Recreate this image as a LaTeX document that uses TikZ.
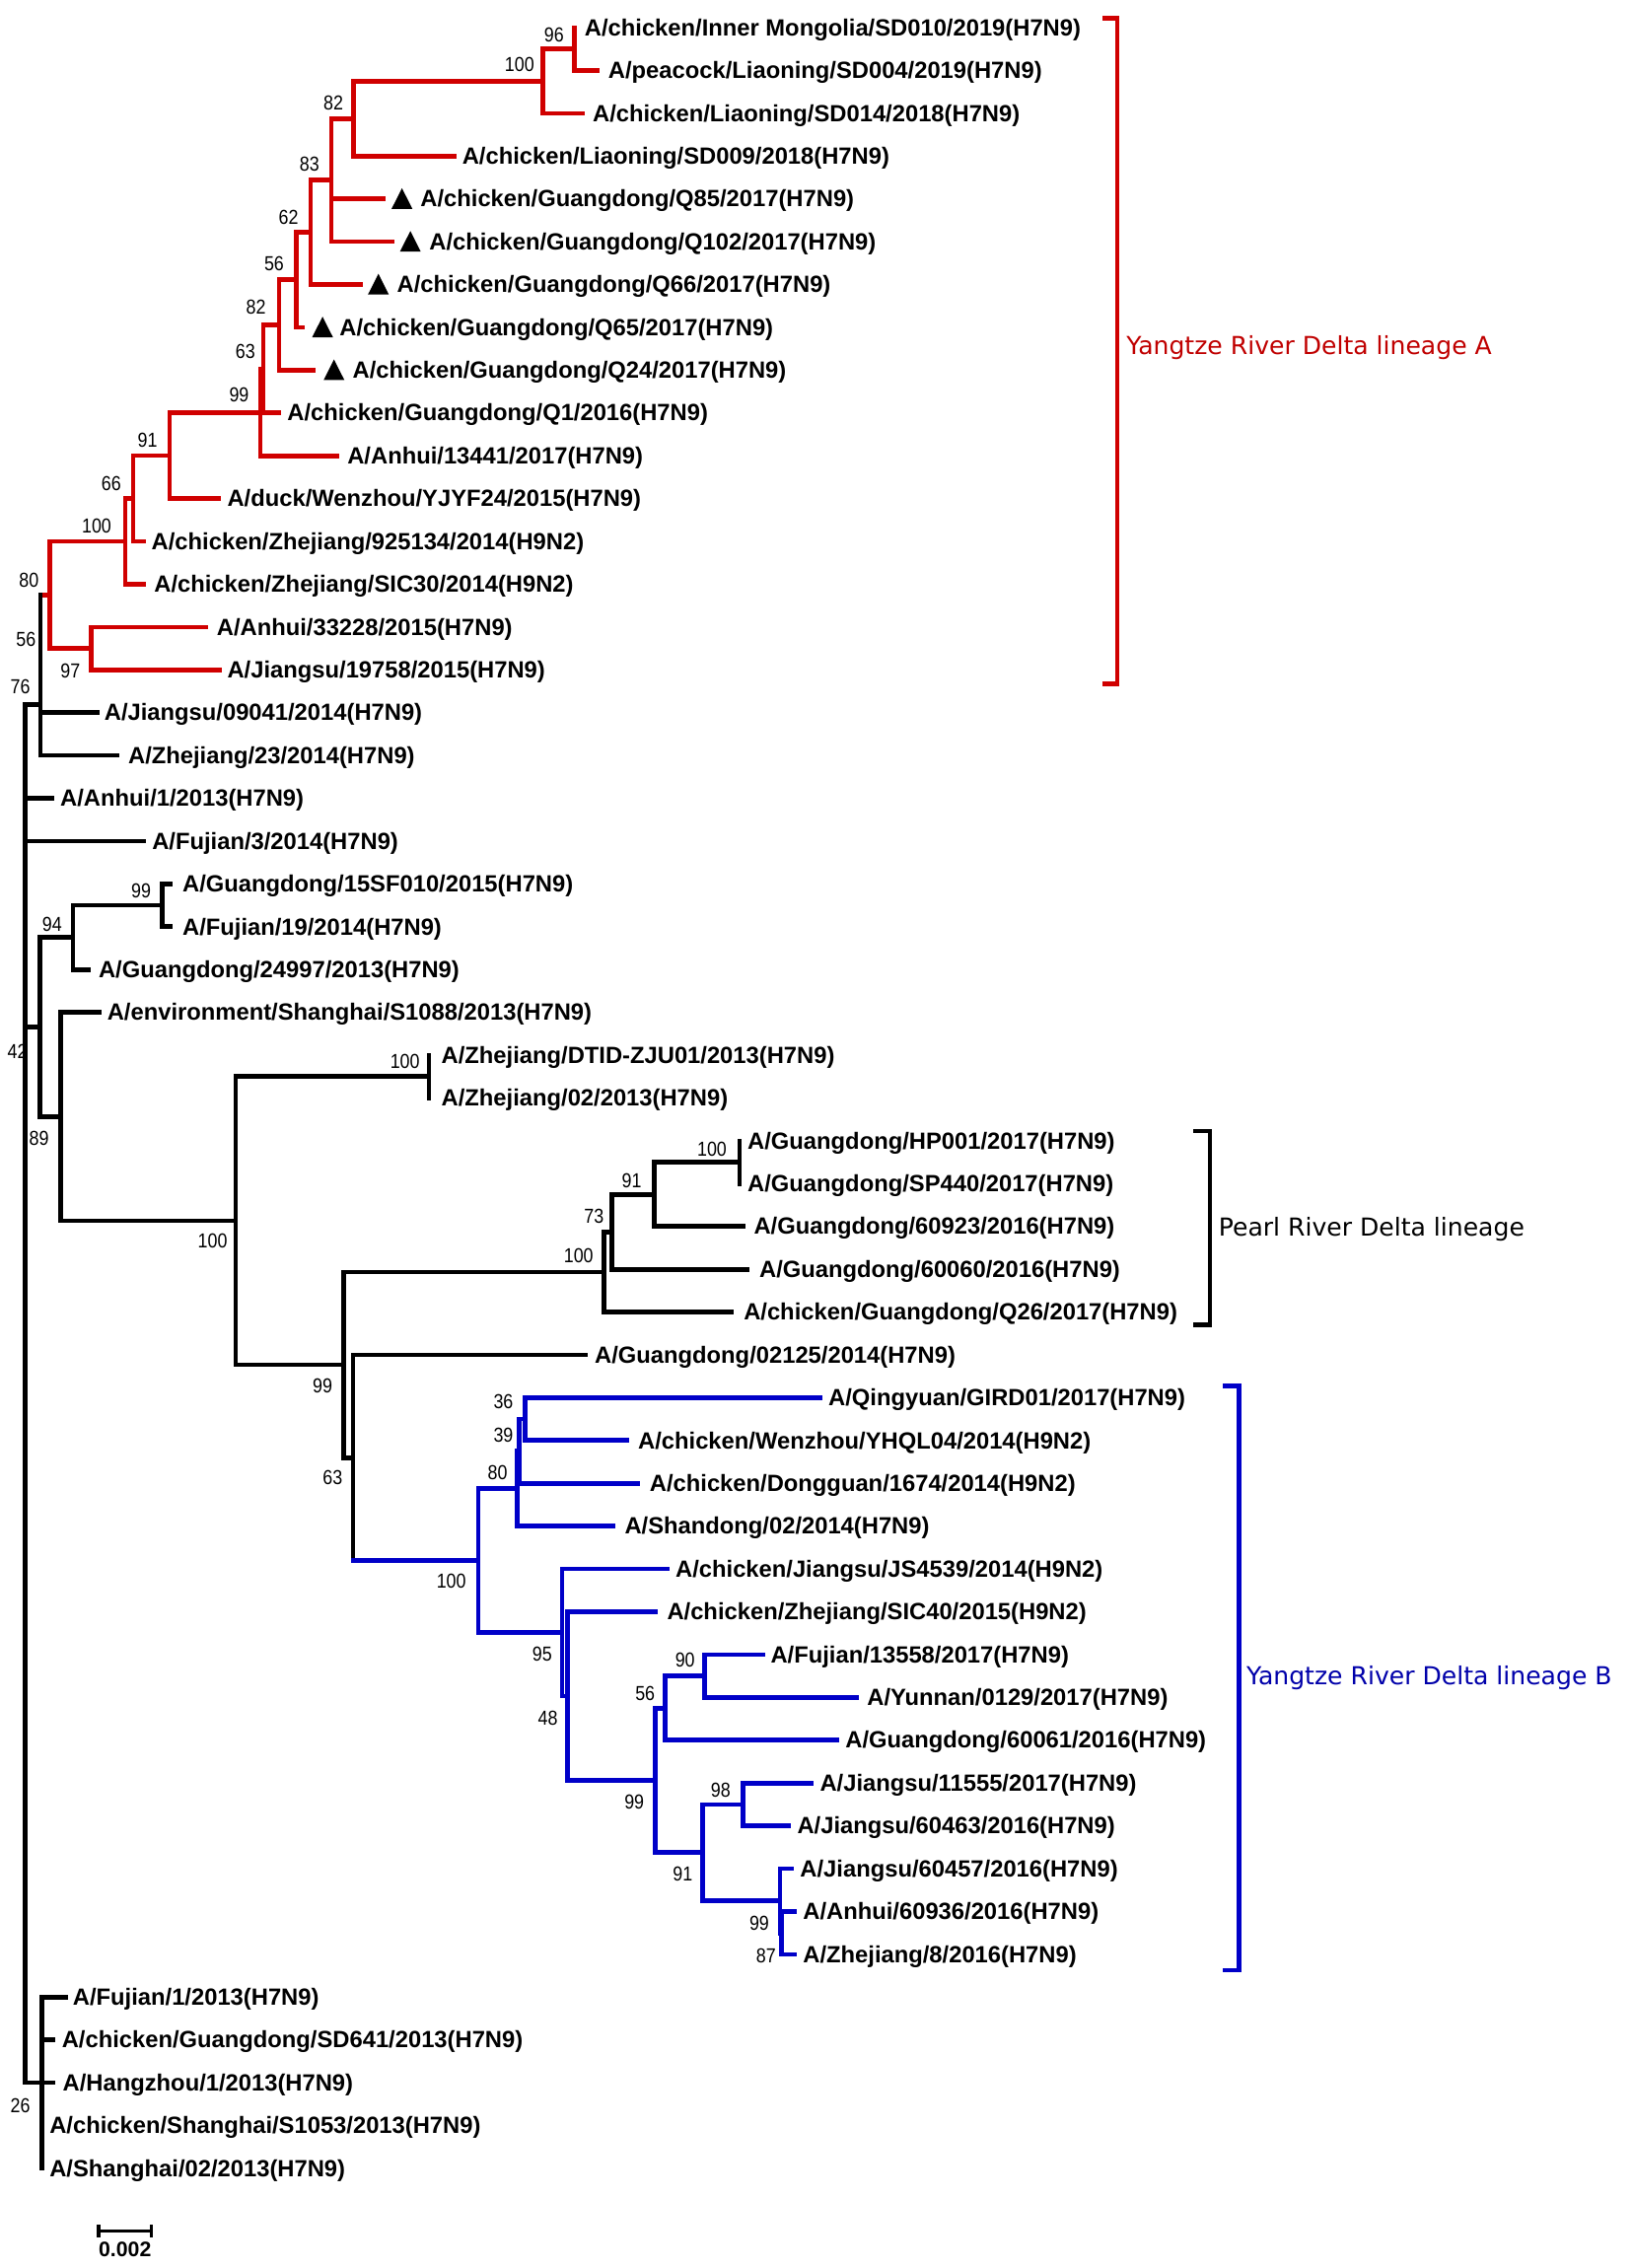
\documentclass[tikz,border=0pt]{standalone}
\usepackage{fontspec}
\setmainfont{Liberation Sans}
\newfontfamily\labf{Liberation Sans}
\newfontfamily\bsf{Liberation Sans}[FakeStretch=0.87]
\newfontfamily\grpf{DejaVu Sans}
\definecolor{redb}{RGB}{208,0,0}
\definecolor{blueb}{RGB}{0,0,200}
\definecolor{redt}{RGB}{192,0,0}
\definecolor{bluet}{RGB}{0,0,170}
\newcommand\leaf[5]{\coordinate (#1) at (#2,#4); \node[leaf] (#1t) at (#3,#4+5.6) {#5};}
\newcommand\tri[2]{\fill (#1,#2+6.9) -- ++(14.4,0) -- ++(-7.2,-14.3) -- cycle;}
\begin{document}
\begin{tikzpicture}[x=1pt,y=-1pt,
  br/.style={line width=3.2pt, line cap=rect, line join=miter},
  brk/.style={line width=3pt, line cap=rect, line join=miter},
  leaf/.style={anchor=base west, inner sep=0pt, font=\labf\bfseries\fontsize{16.2}{18}\selectfont},
  bs/.style={anchor=center, inner sep=0pt, font=\bsf\fontsize{14}{16}\selectfont},
  grp/.style={anchor=base west, inner sep=0pt, font=\grpf\fontsize{17.1}{19}\selectfont}]
\fill[white] (0,0) rectangle (1128,1568);
\useasboundingbox (0,0) rectangle (1128,1568);

% ---------- leaves ----------
\leaf{L0}{397}{404}{19.1}{A/chicken/Inner Mongolia/SD010/2019(H7N9)}
\leaf{L1}{413}{420.4}{48.7}{A/peacock/Liaoning/SD004/2019(H7N9)}
\leaf{L2}{402.4}{409.6}{78.3}{A/chicken/Liaoning/SD014/2018(H7N9)}
\leaf{L3}{313.9}{319.4}{107.9}{A/chicken/Liaoning/SD009/2018(H7N9)}
\leaf{L4}{265.2}{290.5}{137.5}{A/chicken/Guangdong/Q85/2017(H7N9)}
\leaf{L5}{271.4}{296.6}{167.1}{A/chicken/Guangdong/Q102/2017(H7N9)}
\leaf{L6}{249}{274.3}{196.7}{A/chicken/Guangdong/Q66/2017(H7N9)}
\leaf{L7}{209.3}{234.6}{226.3}{A/chicken/Guangdong/Q65/2017(H7N9)}
\leaf{L8}{216.5}{243.6}{255.9}{A/chicken/Guangdong/Q24/2017(H7N9)}
\leaf{L9}{193}{198.5}{285.5}{A/chicken/Guangdong/Q1/2016(H7N9)}
\leaf{L10}{232.8}{240}{315.1}{A/Anhui/13441/2017(H7N9)}
\leaf{L11}{150.8}{157}{344.7}{A/duck/Wenzhou/YJYF24/2015(H7N9)}
\leaf{L12}{99.2}{104.6}{374.3}{A/chicken/Zhejiang/925134/2014(H9N2)}
\leaf{L13}{99.2}{106.4}{403.9}{A/chicken/Zhejiang/SIC30/2014(H9N2)}
\leaf{L14}{142.5}{149.7}{433.5}{A/Anhui/33228/2015(H7N9)}
\leaf{L15}{151.6}{157}{463.1}{A/Jiangsu/19758/2015(H7N9)}
\leaf{L16}{67}{72}{492.7}{A/Jiangsu/09041/2014(H7N9)}
\leaf{L17}{81}{88.5}{522.3}{A/Zhejiang/23/2014(H7N9)}
\leaf{L18}{36}{41.5}{551.9}{A/Anhui/1/2013(H7N9)}
\leaf{L19}{99}{105}{581.5}{A/Fujian/3/2014(H7N9)}
\leaf{L20}{118}{126}{611.1}{A/Guangdong/15SF010/2015(H7N9)}
\leaf{L21}{118}{126}{640.7}{A/Fujian/19/2014(H7N9)}
\leaf{L22}{61}{68}{670.3}{A/Guangdong/24997/2013(H7N9)}
\leaf{L23}{68.5}{74}{699.9}{A/environment/Shanghai/S1088/2013(H7N9)}
\leaf{L24}{296.5}{305}{729.5}{A/Zhejiang/DTID-ZJU01/2013(H7N9)}
\leaf{L25}{296.5}{305}{759.1}{A/Zhejiang/02/2013(H7N9)}
\leaf{L26}{511.2}{516.7}{788.7}{A/Guangdong/HP001/2017(H7N9)}
\leaf{L27}{511.2}{516.7}{818.3}{A/Guangdong/SP440/2017(H7N9)}
\leaf{L28}{513.9}{521}{847.9}{A/Guangdong/60923/2016(H7N9)}
\leaf{L29}{516.7}{524.8}{877.5}{A/Guangdong/60060/2016(H7N9)}
\leaf{L30}{505.8}{514}{907.1}{A/chicken/Guangdong/Q26/2017(H7N9)}
\leaf{L31}{405}{411}{936.7}{A/Guangdong/02125/2014(H7N9)}
\leaf{L32}{566.7}{572.6}{966.3}{A/Qingyuan/GIRD01/2017(H7N9)}
\leaf{L33}{433.6}{441}{995.9}{A/chicken/Wenzhou/YHQL04/2014(H9N2)}
\leaf{L34}{441}{449}{1025.5}{A/chicken/Dongguan/1674/2014(H9N2)}
\leaf{L35}{423.9}{431.7}{1055.1}{A/Shandong/02/2014(H7N9)}
\leaf{L36}{461}{466.9}{1084.7}{A/chicken/Jiangsu/JS4539/2014(H9N2)}
\leaf{L37}{453.2}{461}{1114.3}{A/chicken/Zhejiang/SIC40/2015(H9N2)}
\leaf{L38}{527.6}{532.6}{1143.9}{A/Fujian/13558/2017(H7N9)}
\leaf{L39}{592.2}{599.3}{1173.5}{A/Yunnan/0129/2017(H7N9)}
\leaf{L40}{578.5}{584.3}{1203.1}{A/Guangdong/60061/2016(H7N9)}
\leaf{L41}{560.9}{566.7}{1232.7}{A/Jiangsu/11555/2017(H7N9)}
\leaf{L42}{545.2}{551}{1262.3}{A/Jiangsu/60463/2016(H7N9)}
\leaf{L43}{547}{553}{1291.9}{A/Jiangsu/60457/2016(H7N9)}
\leaf{L44}{549}{555}{1321.5}{A/Anhui/60936/2016(H7N9)}
\leaf{L45}{549}{555}{1351.1}{A/Zhejiang/8/2016(H7N9)}
\leaf{L46}{45.7}{50.2}{1380.7}{A/Fujian/1/2013(H7N9)}
\leaf{L47}{36.5}{42.6}{1410.3}{A/chicken/Guangdong/SD641/2013(H7N9)}
\leaf{L48}{36.4}{43.2}{1439.9}{A/Hangzhou/1/2013(H7N9)}
\leaf{L49}{29}{34.1}{1469.5}{A/chicken/Shanghai/S1053/2013(H7N9)}
\leaf{L50}{29}{34.1}{1499.1}{A/Shanghai/02/2013(H7N9)}

% triangles
\tri{270.7}{137.5}
\tri{276.5}{167.1}
\tri{254.4}{196.7}
\tri{215.8}{226.3}
\tri{223.7}{255.9}

% ---------- internal nodes ----------
% red
\coordinate (n96) at (397,33.9);
\coordinate (n100a) at (375.3,56.1);
\coordinate (n82a) at (244.6,82.0);
\coordinate (n83) at (229.1,124.55);
\coordinate (n62) at (214.7,160.6);
\coordinate (n56r) at (205,193.5);
\coordinate (n82b) at (193,224.7);
\coordinate (n63r) at (182,255.1);
\coordinate (n99r) at (180,285.1);
\coordinate (n91r) at (117.3,314.9);
\coordinate (n66) at (92,344.6);
\coordinate (n100r) at (86.6,374.25);
\coordinate (n97) at (63.2,448.3);
\coordinate (n80) at (34.3,411.3);
% black
\coordinate (n56b) at (28,452);
\coordinate (n76) at (28,487.2);
\coordinate (n99b) at (112,625.9);
\coordinate (n94) at (50.5,648.1);
\coordinate (nDT) at (296.5,744.3);
\coordinate (nHP) at (511.2,803.5);
\coordinate (n91b) at (452.5,825.7);
\coordinate (n73) at (423.1,851.6);
\coordinate (n100p) at (417.7,879.35);
\coordinate (n63b) at (244,1007.8);
\coordinate (n99p) at (237.7,943.6);
\coordinate (n100m) at (163,844);
\coordinate (n89) at (42,772);
\coordinate (n42) at (27.5,710);
\coordinate (n26) at (29,1439.9);
\coordinate (root) at (17.5,963.5);
% blue
\coordinate (n36) at (363,981.1);
\coordinate (n39) at (359,1003.3);
\coordinate (n80b) at (357.5,1029.2);
\coordinate (n98) at (513.9,1247.5);
\coordinate (n87) at (540.5,1336.3);
\coordinate (n99c) at (539.3,1314.1);
\coordinate (n91c) at (485.7,1280.8);
\coordinate (n90) at (487.3,1158.7);
\coordinate (n56c) at (459.9,1180.9);
\coordinate (n99d) at (453.2,1230.85);
\coordinate (n48) at (392.5,1172.6);
\coordinate (n95) at (388.6,1128.65);
\coordinate (nB100) at (330.6,1078.9);

% ---------- branches ----------
\draw[br,redb]
  (n96) |- (L0) (n96) |- (L1)
  (n100a) |- (n96) (n100a) |- (L2)
  (n82a) |- (n100a) (n82a) |- (L3)
  (n83) |- (n82a) (n83) |- (L4) (n83) |- (L5)
  (n62) |- (n83) (n62) |- (L6)
  (n56r) |- (n62) (n56r) |- (L7)
  (n82b) |- (n56r) (n82b) |- (L8)
  (n63r) |- (n82b) (n63r) |- (L9)
  (n99r) |- (n63r) (n99r) |- (L10)
  (n91r) |- (n99r) (n91r) |- (L11)
  (n66) |- (n91r) (n66) |- (L12)
  (n100r) |- (n66) (n100r) |- (L13)
  (n97) |- (L14) (n97) |- (L15)
  (n80) |- (n100r) (n80) |- (n97)
  (n56b |- n80) -- (n80);
\draw[br]
  (n56b) -- (n56b |- n80) (n56b) |- (L16)
  (n76) |- (n56b) (n76) |- (L17)
  (n99b) |- (L20) (n99b) |- (L21)
  (n94) |- (n99b) (n94) |- (L22)
  (nDT) |- (L24) (nDT) |- (L25)
  (nHP) |- (L26) (nHP) |- (L27)
  (n91b) |- (nHP) (n91b) |- (L28)
  (n73) |- (n91b) (n73) |- (L29)
  (n100p) |- (n73) (n100p) |- (L30)
  (n63b) |- (L31) (n63b) -- (n63b |- nB100)
  (n99p) |- (n100p) (n99p) |- (n63b)
  (n100m) |- (nDT) (n100m) |- (n99p)
  (n89) |- (L23) (n89) |- (n100m)
  (n42) |- (n94) (n42) |- (n89)
  (n26) |- (L46) (n26) |- (L47) (n26) |- (L48) (n26) |- (L49) (n26) |- (L50)
  (root) |- (n76) (root) |- (L18) (root) |- (L19) (root) |- (n42) (root) |- (n26);
\draw[br,blueb]
  (n63b |- nB100) -- (nB100)
  (n36) |- (L32) (n36) |- (L33)
  (n39) |- (n36) (n39) |- (L34)
  (n80b) |- (n39) (n80b) |- (L35)
  (n98) |- (L41) (n98) |- (L42)
  (n87) |- (L44) (n87) |- (L45)
  (n99c) |- (L43) (n99c) |- (n87)
  (n91c) |- (n98) (n91c) |- (n99c)
  (n90) |- (L38) (n90) |- (L39)
  (n56c) |- (n90) (n56c) |- (L40)
  (n99d) |- (n56c) (n99d) |- (n91c)
  (n48) |- (L37) (n48) |- (n99d)
  (n95) |- (L36) (n95) |- (n48)
  (nB100) |- (n80b) (nB100) |- (n95);

% ---------- bootstrap values ----------
\node[bs] (b1) at (383,23.9) {96};
\node[bs] (b2) at (359.2,44.9) {100};
\node[bs] (b3) at (230.5,71) {82};
\node[bs] (b4) at (214,113.5) {83};
\node[bs] (b5) at (199.5,150) {62};
\node[bs] (b6) at (189.5,182) {56};
\node[bs] (b7) at (177,212.5) {82};
\node[bs] (b8) at (169.6,243.2) {63};
\node[bs] (b9) at (165.3,272.8) {99};
\node[bs] (b10) at (102,304.6) {91};
\node[bs] (b11) at (76.9,334.2) {66};
\node[bs] (b12) at (66.8,363.7) {100};
\node[bs] (b13) at (20,401) {80};
\node[bs] (b14) at (48.7,464) {97};
\node[bs] (b15) at (18,442) {56};
\node[bs] (b16) at (14,475) {76};
\node[bs] (b17) at (97.5,616) {99};
\node[bs] (b18) at (36,639) {94};
\node[bs] (b19) at (12,727) {42};
\node[bs] (b20) at (27,787) {89};
\node[bs] (b21) at (280,734) {100};
\node[bs] (b22) at (147,858) {100};
\node[bs] (b23) at (492.2,794.5) {100};
\node[bs] (b24) at (436.7,816) {91};
\node[bs] (b25) at (410.6,841) {73};
\node[bs] (b26) at (400,868) {100};
\node[bs] (b27) at (223,958) {99};
\node[bs] (b28) at (230,1021.6) {63};
\node[bs] (b29) at (14,1456) {26};
\node[bs] (b30) at (348,969) {36};
\node[bs] (b31) at (348,992) {39};
\node[bs] (b32) at (344,1018) {80};
\node[bs] (b33) at (312,1093) {100};
\node[bs] (b34) at (374.9,1143.5) {95};
\node[bs] (b35) at (378.8,1187.8) {48};
\node[bs] (b36) at (473.6,1147.9) {90};
\node[bs] (b37) at (446,1170.7) {56};
\node[bs] (b38) at (438.5,1245.8) {99};
\node[bs] (b39) at (498.2,1237.8) {98};
\node[bs] (b40) at (472,1295.8) {91};
\node[bs] (b41) at (524.9,1329.9) {99};
\node[bs] (b42) at (529.6,1352) {87};

% ---------- group brackets ----------
\coordinate (ra1) at (763.4,12.5);
\coordinate (ra2) at (772.5,12.5);
\coordinate (ra3) at (772.5,472.8);
\coordinate (ra4) at (763.4,472.8);
\draw[brk,redb] (ra1) -- (ra2) -- (ra3) -- (ra4);
\node[grp,text=redt] (ga) at (778.6,244.8) {Yangtze River Delta lineage A};

\coordinate (pa1) at (826.3,782);
\coordinate (pa2) at (836.6,782);
\coordinate (pa3) at (836.6,916);
\coordinate (pa4) at (826.3,916);
\draw[brk] (pa1) -- (pa2) -- (pa3) -- (pa4);
\node[grp] (gp) at (842.3,854.3) {Pearl River Delta lineage};

\coordinate (ba1) at (846.8,958.2);
\coordinate (ba2) at (856.6,958.2);
\coordinate (ba3) at (856.6,1362);
\coordinate (ba4) at (846.8,1362);
\draw[brk,blueb] (ba1) -- (ba2) -- (ba3) -- (ba4);
\node[grp,text=bluet] (gb) at (861.6,1164.5) {Yangtze River Delta lineage B};

% ---------- scale bar ----------
\coordinate (sb1) at (68.2,1542.4);
\coordinate (sb2) at (104.5,1542.4);
\draw[line width=2.4pt] (sb1) -- (sb2);
\draw[line width=2.2pt] ([yshift=4.4pt]sb1) -- ([yshift=-4.4pt]sb1);
\draw[line width=2.2pt] ([yshift=4.4pt]sb2) -- ([yshift=-4.4pt]sb2);
\node[anchor=base, inner sep=0pt, font=\labf\bfseries\fontsize{14.5}{16}\selectfont] (sbl) at (86.4,1560.4) {0.002};
\end{tikzpicture}
\end{document}
